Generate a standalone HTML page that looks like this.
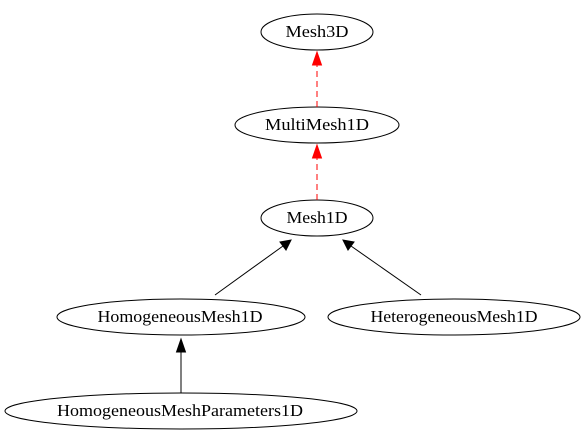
<!DOCTYPE html>
<html><head><style>body{margin:0;background:#fff} text{font-family:"Liberation Serif","Times New Roman",serif;font-size:16.5px}</style></head><body>
<svg width="586" height="443" viewBox="0 0 586 443" xmlns="http://www.w3.org/2000/svg">
<rect width="586" height="443" fill="#fff"/>
<g fill="none" stroke="#000">
<ellipse cx="317" cy="32" rx="56" ry="18"/>
<ellipse cx="317" cy="125" rx="82" ry="18"/>
<ellipse cx="317" cy="218" rx="56" ry="18"/>
<ellipse cx="181" cy="317" rx="124" ry="18"/>
<ellipse cx="454" cy="317" rx="126" ry="18"/>
<ellipse cx="181" cy="411" rx="176" ry="18"/>
</g>
<g stroke="red" stroke-dasharray="6,4" fill="none">
<line x1="317" y1="107" x2="317" y2="65"/>
<line x1="317" y1="200" x2="317" y2="158"/>
</g>
<g fill="red" stroke="red">
<polygon points="312.5,65 317,52 321.5,65"/>
<polygon points="312.5,158 317,145 321.5,158"/>
</g>
<g stroke="#000">
<line x1="215" y1="295" x2="283" y2="246"/>
<line x1="421" y1="295" x2="351" y2="246"/>
<line x1="181" y1="393" x2="181" y2="352"/>
</g>
<g fill="#000" stroke="#000">
<polygon points="280,242 291,240 286,250"/>
<polygon points="348,250 343,240 354,242"/>
<polygon points="176.5,352 181,339 185.5,352"/>
</g>
<g text-anchor="middle" fill="#000">
<text x="317" y="37" textLength="63" lengthAdjust="spacingAndGlyphs">Mesh3D</text>
<text x="317" y="130" textLength="104" lengthAdjust="spacingAndGlyphs">MultiMesh1D</text>
<text x="317" y="223" textLength="61" lengthAdjust="spacingAndGlyphs">Mesh1D</text>
<text x="180" y="322" textLength="165" lengthAdjust="spacingAndGlyphs">HomogeneousMesh1D</text>
<text x="454" y="322" textLength="167" lengthAdjust="spacingAndGlyphs">HeterogeneousMesh1D</text>
<text x="180" y="416" textLength="246" lengthAdjust="spacingAndGlyphs">HomogeneousMeshParameters1D</text>
</g>
</svg>
</body></html>
